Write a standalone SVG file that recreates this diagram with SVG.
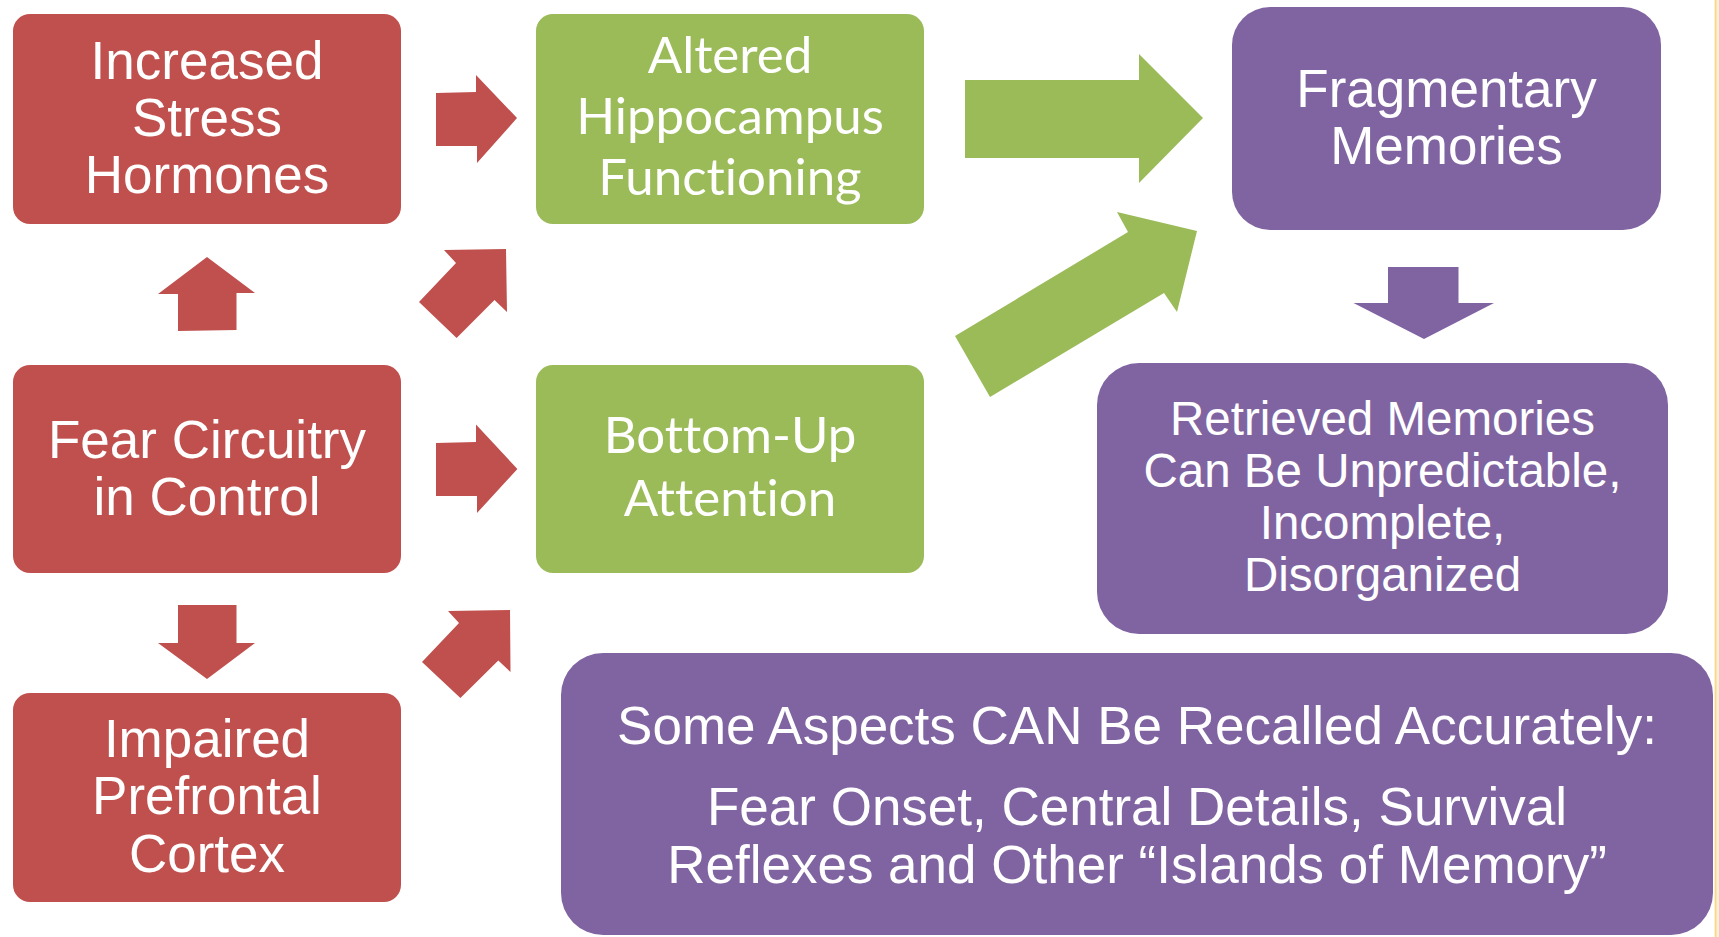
<svg xmlns="http://www.w3.org/2000/svg" width="1719" height="937" viewBox="0 0 1719 937">
  <style>
    .red { fill: #C0504D; }
    .green { fill: #9BBB59; }
    .purple { fill: #8064A2; }
    .arial { font-family: "Liberation Sans", Arial, sans-serif; fill: #FFFFFF; text-anchor: middle; }
    .humanist { font-family: Lato, "Open Sans", sans-serif; fill: #FFFFFF; text-anchor: middle; font-size: 51px; font-variant-ligatures: none; }
  </style>

  <!-- page background and the thin right-hand margin strip -->
  <rect x="0" y="0" width="1719" height="937" fill="#FFFFFF"/>
  <rect x="1714" y="0" width="5" height="937" fill="#FDF0D2"/>
  <rect x="1715" y="0" width="1.5" height="937" fill="#F8D791"/>

  <!-- block arrows -->
  <g id="connectors">
    <polygon class="red" points="436,93 476,92 476,75 517,118 477,163 477,146 436,146"/>
    <polygon class="red" points="207,257 255,293 236.5,293 236.5,330 178,331 178,294 158,294"/>
    <polygon class="red" points="444,250 506,249 507,312 494.5,300 456.6,338 419,302 456,263"/>
    <polygon class="red" points="436,443 476,442 476,424.5 517.4,469 477,513 477,496 436,496"/>
    <polygon class="red" points="178,605 236.5,605 236.5,643 255,643 207,679 158,643 178,643"/>
    <polygon class="red" points="448,611 510,610 510.5,672 498.3,660.6 460.4,698 422,662 459,623"/>
    <polygon class="green" points="965,80 1139,80 1139,54 1203,118 1139,183 1139,158 965,158"/>
    <polygon class="green" points="955,336 1128,232 1117,212 1197,231 1177,312 1164,293 990,397"/>
    <polygon class="purple" points="1388,267 1458.5,267 1458.5,303 1494,303 1424,339 1353.5,303 1388,303"/>
  </g>

  <g id="increased-stress-hormones">
    <rect class="red" x="13" y="14" width="388" height="210" rx="17"/>
    <text class="arial" font-size="53"><tspan x="207" y="79">Increased</tspan><tspan x="207" y="136">Stress</tspan><tspan x="207" y="193">Hormones</tspan></text>
  </g>

  <g id="fear-circuitry">
    <rect class="red" x="13" y="365" width="388" height="208" rx="17"/>
    <text class="arial" font-size="53"><tspan x="207" y="458">Fear Circuitry</tspan><tspan x="207" y="515">in Control</tspan></text>
  </g>

  <g id="impaired-prefrontal-cortex">
    <rect class="red" x="13" y="693" width="388" height="209" rx="17"/>
    <text class="arial" font-size="53"><tspan x="207" y="757">Impaired</tspan><tspan x="207" y="814">Prefrontal</tspan><tspan x="207" y="872">Cortex</tspan></text>
  </g>

  <g id="altered-hippocampus">
    <rect class="green" x="536" y="14" width="388" height="210" rx="17"/>
    <text class="humanist"><tspan x="730" y="73">Altered</tspan><tspan x="730" y="134">Hippocampus</tspan><tspan x="730" y="195">Functioning</tspan></text>
  </g>

  <g id="bottom-up-attention">
    <rect class="green" x="536" y="365" width="388" height="208" rx="17"/>
    <text class="humanist"><tspan x="730" y="453">Bottom-Up</tspan><tspan x="730" y="516">Attention</tspan></text>
  </g>

  <g id="fragmentary-memories">
    <rect class="purple" x="1232" y="7" width="429" height="223" rx="38"/>
    <text class="arial" font-size="53"><tspan x="1446.5" y="107">Fragmentary</tspan><tspan x="1446.5" y="164">Memories</tspan></text>
  </g>

  <g id="retrieved-memories">
    <rect class="purple" x="1097" y="363" width="571" height="271" rx="42"/>
    <text class="arial" font-size="47.5"><tspan x="1382.5" y="434.5">Retrieved Memories</tspan><tspan x="1382.5" y="487">Can Be Unpredictable,</tspan><tspan x="1382.5" y="539">Incomplete,</tspan><tspan x="1382.5" y="590.5">Disorganized</tspan></text>
  </g>

  <g id="accurate-aspects">
    <rect class="purple" x="561" y="653" width="1152" height="282" rx="42"/>
    <text class="arial" font-size="53"><tspan x="1137" y="744">Some Aspects CAN Be Recalled Accurately:</tspan><tspan x="1137" y="825">Fear Onset, Central Details, Survival</tspan><tspan x="1137" y="883">Reflexes and Other “Islands of Memory”</tspan></text>
  </g>
</svg>
